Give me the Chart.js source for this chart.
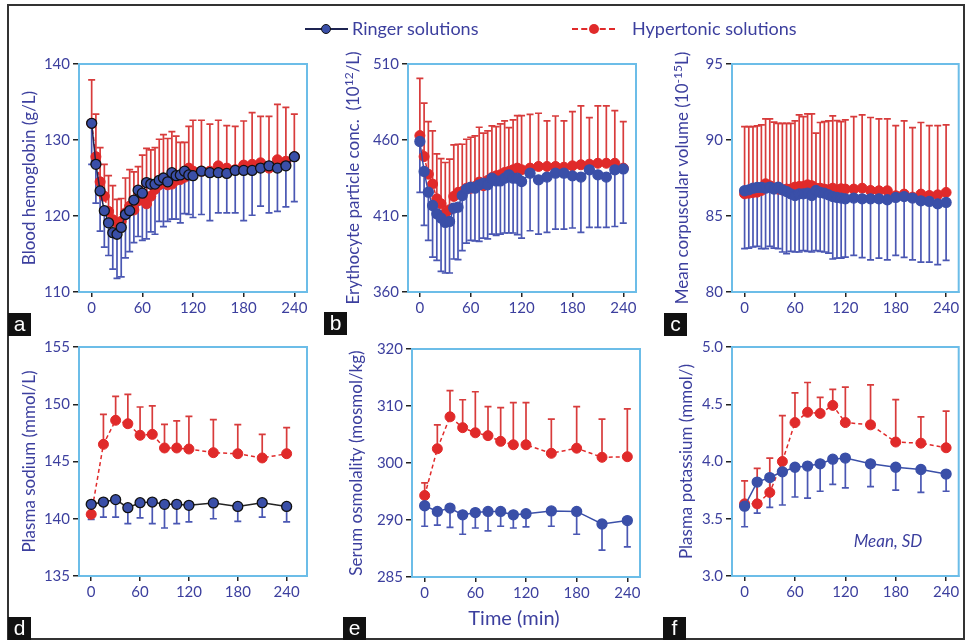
<!DOCTYPE html>
<html><head><meta charset="utf-8">
<script src="https://cdn.jsdelivr.net/npm/chart.js@4.4.1/dist/chart.umd.min.js"></script>
<style>
html,body{margin:0;padding:0;background:#fff;}
#wrap{position:relative;width:965px;height:641px;overflow:hidden;font-family:Lato,"Open Sans",sans-serif;}
canvas{position:absolute;left:0;top:0;}
.frame{position:absolute;left:7px;top:4px;width:958px;height:636px;border:2px solid #333;box-sizing:border-box;}
.lab{position:absolute;width:23px;height:23px;background:#111;color:#fff;font:21px "Liberation Sans",Arial,sans-serif;line-height:21px;text-align:center;}
.legtxt{position:absolute;top:17px;font-size:18px;line-height:22px;color:#3c3f9e;white-space:nowrap;}
.legline{position:absolute;top:28px;height:0;}
.legdot{position:absolute;width:10px;height:10px;border-radius:50%;box-sizing:border-box;}
</style></head>
<body>
<div id="wrap">
  <div class="frame"></div>
  <canvas id="ca" width="965" height="641"></canvas>
  <canvas id="cb" width="965" height="641"></canvas>
  <canvas id="cc" width="965" height="641"></canvas>
  <canvas id="cd" width="965" height="641"></canvas>
  <canvas id="ce" width="965" height="641"></canvas>
  <canvas id="cf" width="965" height="641"></canvas>
  <div class="legline" style="left:305px;width:43px;border-top:2px solid #1e2452;"></div>
  <div class="legdot" style="left:321px;top:24px;background:#3a4fa8;border:1.5px solid #111;"></div>
  <div class="legtxt" style="left:352px;">Ringer solutions</div>
  <div class="legline" style="left:572px;width:43px;border-top:2px dashed #e02a2a;"></div>
  <div class="legdot" style="left:589px;top:24px;background:#e02a2a;"></div>
  <div class="legtxt" style="left:632px;">Hypertonic solutions</div>
  <div class="lab" style="left:8px;top:313px;">a</div>
  <div class="lab" style="left:324px;top:312px;">b</div>
  <div class="lab" style="left:664px;top:313px;">c</div>
  <div class="lab" style="left:8px;top:617px;">d</div>
  <div class="lab" style="left:343px;top:617px;">e</div>
  <div class="lab" style="left:663px;top:617px;">f</div>
</div>
<script>
// ---------- data ----------
const tDense = [0,5,10,15,20,25,30,35,40,45,50,55,60,65,70,75,80,85,90,95,100,105,110,115,120,130,140,150,160,170,180,190,200,210,220,230,240];
const tSparse = [0,15,30,45,60,75,90,105,120,150,180,210,240];
const xTickValues = [0,60,120,180,240];

// a: blood hemoglobin (g/L)
const hbRinger     = [132.2,126.8,123.3,120.7,119.1,117.8,117.6,118.5,120.2,120.7,122.1,123.4,123.0,124.4,124.2,124.2,124.7,125.0,124.5,125.7,125.3,125.4,125.9,125.4,125.3,125.9,125.7,125.7,125.6,126.0,126.0,126.0,126.3,126.6,126.3,126.6,127.8];
const hbRingerLow  = [126.8,121.7,118.0,115.9,114.8,113.0,111.8,112.0,114.5,115.3,116.5,117.3,116.8,117.0,117.9,117.6,119.3,118.6,119.3,119.6,119.6,119.1,120.3,120.2,119.8,120.2,119.4,120.4,120.4,120.4,119.4,120.1,121.3,120.4,120.6,121.2,121.9];
const hbHyper      = [132.2,127.8,124.5,122.6,120.6,119.5,119.1,119.3,120.4,121.3,120.8,122.0,122.2,121.6,122.6,123.5,124.1,124.5,124.1,124.2,124.7,124.8,125.1,126.3,125.9,125.9,125.9,126.6,126.3,126.1,126.7,126.8,127.0,126.3,127.4,127.2,127.8];
const hbHyperHigh  = [137.9,133.4,129.0,126.8,125.3,124.0,122.2,122.3,125.0,126.1,125.8,126.5,128.0,128.9,128.7,129.0,130.1,130.7,130.2,131.1,130.5,129.7,129.7,131.8,132.6,132.6,132.1,132.6,131.9,131.8,132.5,133.6,133.1,133.1,134.7,134.3,133.4];
const hbTicks = [110,120,130,140];

// b: erythrocyte particle concentration (10^12/L)
const rbcRinger    = [459.0,439.3,425.7,416.9,411.5,408.6,405.8,406.4,415.2,415.8,423.5,427.7,429.0,428.3,430.5,431.6,430.5,434.9,433.1,433.1,434.9,437.1,434.9,434.9,432.7,438.2,433.8,435.6,438.2,438.2,436.4,435.6,440.4,437.1,435.6,440.4,441.0];
const rbcRingerLow = [425.5,403.8,394.0,383.0,380.8,373.6,372.5,372.5,381.7,381.3,387.2,392.2,394.0,393.7,393.3,395.5,395.0,398.1,397.2,398.1,398.8,398.8,398.8,397.7,395.5,400.3,398.1,399.2,401.4,401.4,402.1,399.2,402.5,402.5,402.5,403.1,405.3];
const rbcHyper     = [462.9,449.1,437.5,431.0,421.3,418.0,411.9,414.1,422.9,425.5,426.1,428.3,428.3,429.4,432.3,429.9,433.4,435.3,436.4,437.1,438.6,439.3,440.4,441.5,440.4,441.5,442.6,442.6,442.6,442.1,443.0,443.7,444.1,444.7,444.7,444.7,441.5];
const rbcHyperHigh = [500.6,484.2,472.1,466.0,450.9,447.8,445.2,447.4,456.8,457.2,457.2,460.5,461.8,462.7,468.4,464.5,466.0,469.3,468.8,470.6,472.6,468.2,473.2,476.1,476.1,476.9,477.6,472.6,475.8,472.6,478.7,482.4,474.7,482.4,482.4,479.3,472.1];
const rbcTicks = [360,410,460,510];

// c: mean corpuscular volume (10^-15 L)
const mcvRinger    = [86.66,86.72,86.83,86.88,86.88,86.83,86.9,86.77,86.9,86.72,86.61,86.46,86.35,86.46,86.46,86.5,86.35,86.68,86.55,86.5,86.39,86.28,86.22,86.18,86.13,86.18,86.13,86.13,86.13,86.07,86.22,86.28,86.18,86.0,85.96,85.8,85.89];
const mcvRingerLow = [82.85,82.89,82.96,83.0,82.85,82.85,83.0,82.89,82.85,82.63,82.52,82.67,82.63,82.63,82.72,82.67,82.63,82.72,82.67,82.63,82.56,82.17,82.23,82.23,82.3,82.41,82.26,82.12,82.23,82.12,82.41,82.28,82.12,81.97,81.97,81.8,82.08];
const mcvHyper     = [86.46,86.5,86.55,86.57,86.68,87.12,86.99,86.83,86.77,86.72,86.77,86.77,86.9,86.94,86.94,87.05,86.99,86.83,86.83,86.77,86.72,86.83,86.72,86.79,86.77,86.77,86.83,86.68,86.66,86.66,86.33,86.44,86.24,86.44,86.35,86.39,86.55];
const mcvHyperHigh = [90.88,90.88,90.88,90.93,90.99,91.39,91.39,91.17,91.1,91.1,91.1,91.1,91.26,91.65,91.54,91.72,91.72,90.45,91.15,91.21,91.26,91.59,91.28,91.21,91.32,91.54,91.65,91.48,91.39,91.39,90.95,91.26,90.82,91.15,90.95,90.95,90.99];
const mcvTicks = [80,85,90,95];

// d: plasma sodium (mmol/L)
const naRinger    = [141.26,141.46,141.67,140.97,141.40,141.46,141.26,141.26,141.17,141.38,141.08,141.40,141.08];
const naRingerLow = [139.95,140.15,140.15,139.57,140.07,139.57,139.19,139.57,139.72,140.0,139.77,140.15,139.72];
const naHyper     = [140.39,146.5,148.6,148.3,147.29,147.37,146.18,146.18,146.09,145.77,145.68,145.31,145.68];
const naHyperHigh = [141.5,149.12,150.69,150.87,149.76,149.85,148.25,148.54,148.94,148.65,148.22,147.37,147.95];
const naTicks = [135,140,145,150,155];

// e: serum osmolality (mosmol/kg)
const osmRinger    = [292.5,291.5,292.1,290.9,291.3,291.5,291.5,290.9,291.1,291.6,291.5,289.3,289.9];
const osmRingerLow = [288.9,289.1,288.7,287.5,288.6,288.1,288.9,288.6,288.8,288.9,287.5,284.7,285.3];
const osmHyper     = [294.3,302.5,308.1,306.2,305.3,304.8,303.8,303.2,303.2,301.7,302.6,301.0,301.1];
const osmHyperHigh = [296.5,306.7,312.7,311.1,312.5,309.9,309.7,310.6,310.6,307.7,309.9,307.7,309.5];
const osmTicks = [280,290,300,310,320];
const osmTickLabels = ['285','290','300','310','320'];

// f: plasma potassium (mmol/L)
const kRinger    = [3.61,3.82,3.86,3.91,3.95,3.96,3.98,4.02,4.03,3.98,3.95,3.93,3.89];
const kRingerLow = [3.43,3.55,3.60,3.62,3.69,3.68,3.74,3.80,3.77,3.78,3.75,3.73,3.74];
const kHyper     = [3.63,3.63,3.73,4.00,4.34,4.43,4.42,4.49,4.34,4.32,4.17,4.16,4.12];
const kHyperHigh = [3.83,3.94,4.03,4.40,4.60,4.69,4.56,4.63,4.65,4.67,4.54,4.39,4.44];
const kTicks = [3.0,3.5,4.0,4.5,5.0];

// ---------- styling ----------
const W = 965, H = 641;
const TXT = '#3c3f9e', FRAME = '#6cbde8';
const BLUE = '#3a4fa8', BLUE_ERR = '#4a57b3', RED = '#e02a2a', RED_ERR = '#d83b3b';
const FONT = 'Lato, "Open Sans", sans-serif';
Chart.defaults.font.family = FONT;

const deco = {
  id: 'deco',
  beforeDatasetsDraw(chart) {
    const {ctx, scales: {x, y}} = chart;
    chart.data.datasets.forEach(ds => {
      if (!ds.errEnds) return;
      ctx.save();
      ctx.strokeStyle = ds.errColor; ctx.lineWidth = 1.7;
      ds.data.forEach((p, i) => {
        const px = x.getPixelForValue(p.x), py = y.getPixelForValue(p.y), pe = y.getPixelForValue(ds.errEnds[i]);
        ctx.beginPath();
        ctx.moveTo(px, py); ctx.lineTo(px, pe);
        ctx.moveTo(px - 3.5, pe); ctx.lineTo(px + 3.5, pe);
        ctx.stroke();
      });
      ctx.restore();
    });
  },
  afterDraw(chart, args, o) {
    const {ctx, chartArea: a} = chart;
    ctx.save();
    ctx.strokeStyle = FRAME; ctx.lineWidth = 2;
    ctx.strokeRect(a.left, a.top, a.right - a.left, a.bottom - a.top);
    // rotated y-axis title with optional superscript
    const segs = o.title;
    ctx.translate(a.left - o.titleOff, (a.top + a.bottom) / 2 + (o.titleShift || 0));
    ctx.rotate(-Math.PI / 2);
    ctx.fillStyle = TXT; ctx.textBaseline = 'middle';
    let total = 0;
    segs.forEach(s => { ctx.font = (s.sup ? '12px ' : '17px ') + FONT; s.w = ctx.measureText(s.t).width; total += s.w; });
    let cx = -total / 2;
    segs.forEach(s => {
      ctx.font = (s.sup ? '12px ' : '17px ') + FONT;
      ctx.fillText(s.t, cx, s.sup ? -5 : 0);
      cx += s.w;
    });
    ctx.restore();
    (o.extra || []).forEach(e => {
      ctx.save();
      ctx.font = e.font; ctx.fillStyle = TXT; ctx.textAlign = 'center'; ctx.textBaseline = 'middle';
      ctx.fillText(e.text, e.x, e.y);
      ctx.restore();
    });
  }
};

function panel(id, c) {
  const [L, T, R, B] = c.rect;
  const mk = (vals) => c.times.map((t, i) => ({x: t, y: vals[i]}));
  new Chart(document.getElementById(id), {
    type: 'line',
    data: {datasets: [
      {label: 'Ringer solutions', data: mk(c.ringer), borderColor: c.ringerLine, borderWidth: 1.5,
       pointRadius: 5, pointBackgroundColor: BLUE, pointBorderColor: c.ringerBorder, pointBorderWidth: 1.3,
       errEnds: c.ringerLow, errColor: BLUE_ERR, tension: 0},
      {label: 'Hypertonic solutions', data: mk(c.hyper), borderColor: RED, borderDash: [4, 3], borderWidth: 1.5,
       pointRadius: 5, pointBackgroundColor: RED, pointBorderColor: RED, pointBorderWidth: 1,
       errEnds: c.hyperHigh, errColor: RED_ERR, tension: 0}
    ]},
    options: {
      responsive: false, animation: false, events: [],
      layout: {padding: {left: L - 60, top: T, right: W - R, bottom: H - B - 30}},
      plugins: {legend: {display: false}, tooltip: {enabled: false},
        deco: {title: c.title, titleOff: c.titleOff, extra: c.extra}},
      scales: {
        x: {type: 'linear', min: c.xMin, max: c.xMax,
            afterBuildTicks: s => { s.ticks = xTickValues.map(v => ({value: v})); },
            afterFit: s => { s.height = 30; },
            ticks: {autoSkip: false, maxRotation: 0, font: {size: 15}, color: TXT, padding: 2, callback: v => String(v)},
            grid: {drawOnChartArea: false, tickLength: 5, color: '#222', lineWidth: 1.5},
            border: {color: FRAME, width: 2}},
        y: {type: 'linear', min: c.yTicks[0], max: c.yTicks[c.yTicks.length - 1],
            afterBuildTicks: s => { s.ticks = c.yTicks.map(v => ({value: v})); },
            afterFit: s => { s.width = 60; },
            ticks: {autoSkip: false, font: {size: 15}, color: TXT, padding: 3, callback: c.yLabel},
            grid: {drawOnChartArea: false, tickLength: 6, color: '#222', lineWidth: 1.5},
            border: {color: FRAME, width: 2}}
      }
    },
    plugins: [deco]
  });
}

const plain = v => String(v);

panel('ca', {rect: [79, 64, 307, 292], xMin: -15, xMax: 255, times: tDense,
  ringer: hbRinger, ringerLow: hbRingerLow, hyper: hbHyper, hyperHigh: hbHyperHigh,
  ringerLine: '#1e2452', ringerBorder: '#111', yTicks: hbTicks, yLabel: plain,
  title: [{t: 'Blood hemoglobin (g/L)'}], titleOff: 49});
panel('cb', {rect: [408, 64, 636, 292], xMin: -14, xMax: 255, times: tDense,
  ringer: rbcRinger, ringerLow: rbcRingerLow, hyper: rbcHyper, hyperHigh: rbcHyperHigh,
  ringerLine: BLUE, ringerBorder: BLUE, yTicks: rbcTicks, yLabel: plain,
  title: [{t: 'Erythocyte particle conc.  (10'}, {t: '12', sup: true}, {t: '/L)'}], titleOff: 54});
panel('cc', {rect: [732, 64, 960, 292], xMin: -15, xMax: 255, times: tDense,
  ringer: mcvRinger, ringerLow: mcvRingerLow, hyper: mcvHyper, hyperHigh: mcvHyperHigh,
  ringerLine: BLUE, ringerBorder: BLUE, yTicks: mcvTicks, yLabel: plain,
  title: [{t: 'Mean corpuscular volume (10'}, {t: '-15', sup: true}, {t: 'L)'}], titleOff: 49});
panel('cd', {rect: [79, 347, 307, 576], xMin: -15, xMax: 265, times: tSparse,
  ringer: naRinger, ringerLow: naRingerLow, hyper: naHyper, hyperHigh: naHyperHigh,
  ringerLine: '#222', ringerBorder: '#111', yTicks: naTicks, yLabel: plain,
  title: [{t: 'Plasma sodium (mmol/L)'}], titleOff: 49});
panel('ce', {rect: [412, 349, 640, 577], xMin: -15, xMax: 255, times: tSparse,
  ringer: osmRinger, ringerLow: osmRingerLow, hyper: osmHyper, hyperHigh: osmHyperHigh,
  ringerLine: BLUE, ringerBorder: BLUE, yTicks: osmTicks, yLabel: (v) => osmTickLabels[osmTicks.indexOf(v)],
  title: [{t: 'Serum osmolality (mosmol/kg)'}], titleOff: 55,
  extra: [{text: 'Time (min)', x: 514, y: 619, font: '20px ' + FONT}]});
panel('cf', {rect: [732, 347, 960, 576], xMin: -15, xMax: 255, times: tSparse,
  ringer: kRinger, ringerLow: kRingerLow, hyper: kHyper, hyperHigh: kHyperHigh,
  ringerLine: BLUE, ringerBorder: BLUE, yTicks: kTicks, yLabel: v => Number(v).toFixed(1),
  title: [{t: 'Plasma potassium (mmol/)'}], titleOff: 45,
  extra: [{text: 'Mean, SD', x: 888, y: 542, font: 'italic 17px ' + FONT}]});
</script>
</body></html>
